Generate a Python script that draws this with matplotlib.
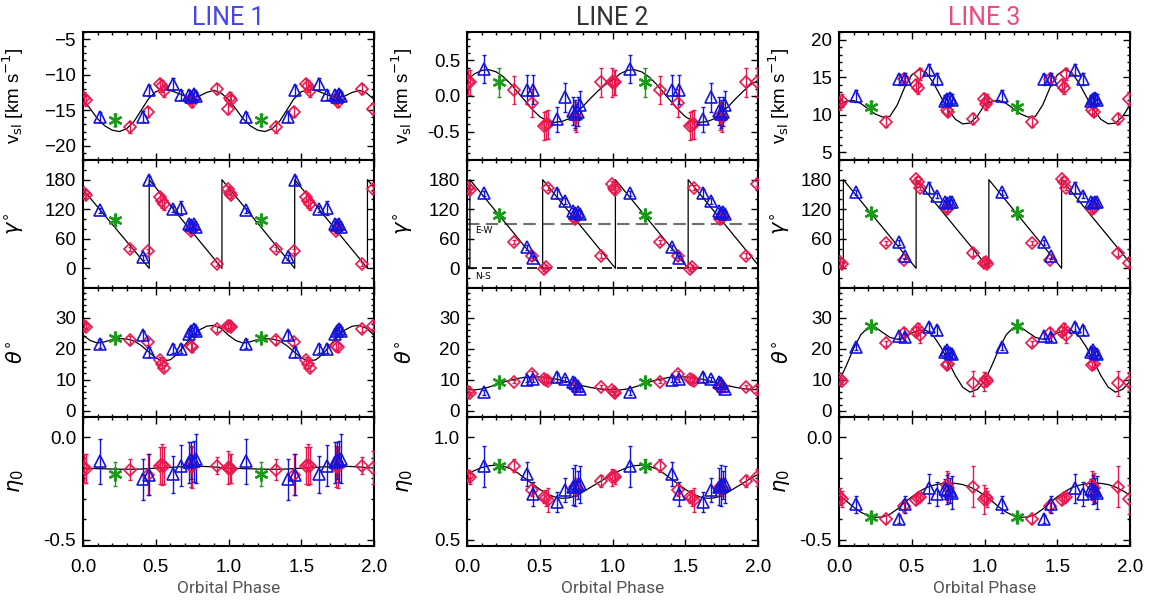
import numpy as np
import matplotlib
matplotlib.use('Agg')
import matplotlib.pyplot as plt
from matplotlib.ticker import MultipleLocator

RED = '#e8174d'
BLUE = '#1414dc'
GREEN = '#1c9a1c'

# observation phases (folded, plotted at phase and phase+1)
red_phase = [0.008, 0.018, 0.325, 0.45, 0.53, 0.545, 0.56, 0.74, 0.75, 0.92, 0.995]
blue_phase = [0.12, 0.41, 0.455, 0.62, 0.675, 0.73, 0.745, 0.76, 0.775]
green_phase = [0.22]
model_phase = [0.00, 0.05, 0.10, 0.15, 0.20, 0.25, 0.30, 0.35, 0.40, 0.45, 0.50,
               0.55, 0.60, 0.65, 0.70, 0.75, 0.80, 0.85, 0.90, 0.95, 1.00]

# ---- LINE 1 ----
l1_vsl_red = [-13.3, -13.6, -17.4, -15.3, -11.3, -11.6, -12.3, -13.4, -13.8, -12.0, -14.8]
l1_vsl_red_err = [0.8, 0.8, 0.8, 0.7, 0.7, 0.8, 0.8, 0.7, 0.7, 0.7, 0.8]
l1_vsl_blue = [-15.9, -15.9, -12.2, -11.3, -12.9, -12.9, -13.2, -12.7, -13.0]
l1_vsl_blue_err = [0.7, 0.8, 0.8, 0.8, 0.7, 0.7, 0.7, 0.6, 0.6]
l1_vsl_green = [-16.4]
l1_vsl_green_err = [0.8]
l1_vsl_model = [-13.5, -14.8, -16.2, -17.2, -17.8, -18.0, -17.6, -16.6, -15.0, -13.4, -12.4,
                -12.1, -12.2, -12.6, -13.0, -13.2, -13.0, -12.5, -12.2, -12.6, -13.5]

l1_gam_red = [153, 148, 39, 35, 144, 137, 131, 76, 79, 9, 162]
l1_gam_red_err = [5, 5, 4, 4, 8, 14, 12, 5, 5, 4, 5]
l1_gam_blue = [118, 22, 180, 120, 122, 90, 87, 91, 83]
l1_gam_blue_err = [5, 5, 8, 6, 14, 6, 6, 6, 6]
l1_gam_green = [99]
l1_gam_green_err = [6]
l1_gam_model_x = [0.0, 0.455, 0.455, 0.955, 0.955, 1.455, 1.455, 1.955, 1.955, 2.0]
l1_gam_model_y = [160, 0, 180, 0, 180, 0, 180, 0, 180, 164]

l1_the_red = [27.3, 27.0, 22.7, 22.1, 16.2, 15.1, 13.7, 21.0, 20.5, 26.4, 27.3]
l1_the_red_err = [0.8, 0.8, 1.2, 1.0, 1.0, 1.2, 1.0, 1.5, 1.5, 1.0, 1.0]
l1_the_blue = [21.6, 24.3, 18.9, 20.0, 20.0, 24.8, 25.6, 26.4, 25.8]
l1_the_blue_err = [1.5, 1.5, 1.5, 1.5, 1.5, 1.5, 1.5, 1.5, 1.2]
l1_the_green = [23.5]
l1_the_green_err = [0.8]
l1_the_model = [24.3, 22.6, 21.8, 22.2, 22.9, 23.2, 23.1, 22.5, 21.0, 19.0, 17.0,
                16.0, 16.4, 18.3, 21.2, 24.0, 26.0, 27.2, 27.5, 26.5, 24.3]

l1_eta_red = [-0.150, -0.153, -0.157, -0.183, -0.137, -0.134, -0.137, -0.140, -0.145, -0.137, -0.148]
l1_eta_red_err = [0.07, 0.07, 0.05, 0.10, 0.09, 0.10, 0.09, 0.10, 0.10, 0.04, 0.08]
l1_eta_blue = [-0.116, -0.203, -0.183, -0.180, -0.137, -0.120, -0.112, -0.115, -0.104]
l1_eta_blue_err = [0.11, 0.10, 0.10, 0.09, 0.10, 0.10, 0.09, 0.10, 0.12]
l1_eta_green = [-0.178]
l1_eta_green_err = [0.06]
l1_eta_model = [-0.150, -0.151, -0.152, -0.153, -0.154, -0.155, -0.155, -0.155, -0.154, -0.152, -0.150,
                -0.148, -0.146, -0.144, -0.142, -0.141, -0.141, -0.142, -0.144, -0.147, -0.150]

# ---- LINE 2 ----
l2_vsl_red = [0.19, 0.19, 0.085, -0.10, -0.42, -0.41, -0.40, -0.28, -0.31, 0.19, 0.19]
l2_vsl_red_err = [0.18, 0.18, 0.2, 0.2, 0.2, 0.2, 0.2, 0.2, 0.2, 0.2, 0.2]
l2_vsl_blue = [0.38, 0.09, 0.09, -0.33, -0.02, -0.21, -0.25, -0.22, -0.13]
l2_vsl_blue_err = [0.2, 0.2, 0.2, 0.18, 0.2, 0.2, 0.2, 0.2, 0.2]
l2_vsl_green = [0.19]
l2_vsl_green_err = [0.2]
l2_vsl_model = [0.22, 0.31, 0.36, 0.37, 0.34, 0.27, 0.17, 0.05, -0.07, -0.19, -0.29,
                -0.35, -0.37, -0.36, -0.32, -0.24, -0.14, -0.03, 0.07, 0.16, 0.22]

l2_gam_red = [164, 159, 53, 24, -1, 2, 164, 100, 103, 26, 172]
l2_gam_red_err = [5, 5, 4, 4, 4, 4, 5, 5, 5, 5, 5]
l2_gam_blue = [152, 43, 21, 152, 136, 117, 112, 115, 110]
l2_gam_blue_err = [5, 5, 5, 10, 6, 6, 6, 6, 6]
l2_gam_green = [108]
l2_gam_green_err = [5]
l2_gam_model_x = [0.0, 0.02, 0.02, 0.52, 0.52, 1.02, 1.02, 1.52, 1.52, 2.0]
l2_gam_model_y = [7, 0, 180, 0, 180, 0, 180, 0, 180, 7]

l2_the_red = [5.9, 5.6, 9.4, 11.9, 10.2, 10.0, 9.7, 7.2, 7.6, 7.8, 6.8]
l2_the_red_err = [0.6, 0.6, 0.6, 0.8, 0.8, 0.8, 0.8, 0.8, 0.8, 0.6, 0.6]
l2_the_blue = [5.9, 10.0, 10.2, 10.8, 10.2, 9.2, 8.8, 8.0, 7.0]
l2_the_blue_err = [0.8, 0.8, 0.8, 1.5, 0.8, 1.0, 1.0, 1.0, 1.0]
l2_the_green = [9.4]
l2_the_green_err = [0.6]
l2_the_model = [6.8, 6.7, 7.0, 7.6, 8.4, 9.2, 9.9, 10.4, 10.8, 10.9, 10.9,
                10.7, 10.3, 9.8, 9.2, 8.6, 8.0, 7.5, 7.1, 6.8, 6.8]

l2_eta_red = [0.813, 0.805, 0.863, 0.743, 0.711, 0.705, 0.695, 0.760, 0.752, 0.789, 0.805]
l2_eta_red_err = [0.03, 0.03, 0.03, 0.03, 0.03, 0.04, 0.06, 0.04, 0.04, 0.03, 0.04]
l2_eta_blue = [0.860, 0.822, 0.723, 0.685, 0.744, 0.760, 0.765, 0.768, 0.772]
l2_eta_blue_err = [0.10, 0.06, 0.06, 0.05, 0.06, 0.09, 0.10, 0.07, 0.09]
l2_eta_green = [0.863]
l2_eta_green_err = [0.03]
l2_eta_model = [0.820, 0.838, 0.853, 0.862, 0.865, 0.860, 0.847, 0.826, 0.800, 0.773, 0.747,
                0.725, 0.710, 0.703, 0.705, 0.715, 0.735, 0.757, 0.778, 0.800, 0.820]

# ---- LINE 3 ----
l3_vsl_red = [11.4, 11.9, 9.1, 14.8, 13.9, 13.6, 15.4, 10.6, 10.4, 9.5, 12.1]
l3_vsl_red_err = [0.8, 0.8, 0.7, 0.8, 0.8, 0.8, 0.8, 0.6, 0.6, 0.7, 0.8]
l3_vsl_blue = [12.5, 14.7, 14.7, 16.0, 14.7, 11.9, 12.1, 12.2, 12.0]
l3_vsl_blue_err = [0.8, 0.7, 0.8, 0.7, 0.8, 0.7, 0.7, 0.7, 0.7]
l3_vsl_green = [11.1]
l3_vsl_green_err = [0.8]
l3_vsl_model = [11.3, 11.8, 11.9, 11.5, 10.8, 10.1, 9.7, 9.8, 11.3, 13.6, 15.3,
                16.0, 15.6, 14.2, 12.4, 10.7, 9.4, 8.8, 8.9, 9.8, 11.3]

l3_gam_red = [12, 9, 51, 17, 181, 175, 164, 120, 122, 32, 11]
l3_gam_red_err = [6, 6, 4, 4, 4, 4, 4, 5, 5, 8, 6]
l3_gam_blue = [154, 53, 24, 164, 147, 134, 132, 134, 134]
l3_gam_blue_err = [5, 5, 5, 12, 5, 5, 5, 5, 5]
l3_gam_green = [112]
l3_gam_green_err = [5]
l3_gam_model_x = [0.0, 0.03, 0.03, 0.53, 0.53, 1.03, 1.03, 1.53, 1.53, 2.0]
l3_gam_model_y = [11, 0, 180, 0, 180, 0, 180, 0, 180, 11]

l3_the_red = [10.2, 9.7, 21.8, 25.1, 25.4, 26.4, 24.3, 14.6, 15.0, 8.8, 9.4]
l3_the_red_err = [1.0, 1.0, 0.8, 1.5, 1.5, 2.0, 2.5, 1.0, 1.0, 4.0, 3.0]
l3_the_blue = [20.5, 24.0, 23.7, 27.0, 25.9, 18.9, 19.4, 18.6, 18.3]
l3_the_blue_err = [1.0, 1.0, 1.2, 1.2, 1.5, 1.2, 1.2, 1.2, 1.2]
l3_the_green = [27.2]
l3_the_green_err = [0.8]
l3_the_model = [9.5, 14.5, 20.0, 24.5, 26.8, 26.9, 25.2, 23.6, 23.0, 23.6, 25.0,
                26.0, 25.8, 24.0, 20.5, 16.0, 11.3, 7.6, 6.0, 6.9, 9.5]

l3_eta_red = [-0.289, -0.300, -0.400, -0.335, -0.305, -0.298, -0.289, -0.233, -0.245, -0.241, -0.302]
l3_eta_red_err = [0.04, 0.04, 0.02, 0.03, 0.02, 0.02, 0.02, 0.07, 0.07, 0.10, 0.07]
l3_eta_blue = [-0.327, -0.398, -0.327, -0.249, -0.277, -0.252, -0.255, -0.260, -0.270]
l3_eta_blue_err = [0.04, 0.02, 0.04, 0.07, 0.06, 0.05, 0.07, 0.06, 0.08]
l3_eta_green = [-0.388]
l3_eta_green_err = [0.02]
l3_eta_model = [-0.282, -0.310, -0.340, -0.365, -0.382, -0.390, -0.388, -0.375, -0.350, -0.318, -0.290,
                -0.265, -0.245, -0.233, -0.226, -0.223, -0.224, -0.230, -0.242, -0.260, -0.282]

titles = ['LINE 1', 'LINE 2', 'LINE 3']
title_colors = ['#4646f0', '#333333', '#f04a78']
ylabels = [r'v$_{\rm sl}$ [km s$^{-1}$]', r'$\gamma^{\circ}$', r'$\theta^{\circ}$', r'$\eta_0$']
ylabel_sizes = [13.5, 15, 15, 15]

panels = {
    (0, 0): (l1_vsl_red, l1_vsl_red_err, l1_vsl_blue, l1_vsl_blue_err, l1_vsl_green, l1_vsl_green_err, l1_vsl_model),
    (1, 0): (l1_gam_red, l1_gam_red_err, l1_gam_blue, l1_gam_blue_err, l1_gam_green, l1_gam_green_err, (l1_gam_model_x, l1_gam_model_y)),
    (2, 0): (l1_the_red, l1_the_red_err, l1_the_blue, l1_the_blue_err, l1_the_green, l1_the_green_err, l1_the_model),
    (3, 0): (l1_eta_red, l1_eta_red_err, l1_eta_blue, l1_eta_blue_err, l1_eta_green, l1_eta_green_err, l1_eta_model),
    (0, 1): (l2_vsl_red, l2_vsl_red_err, l2_vsl_blue, l2_vsl_blue_err, l2_vsl_green, l2_vsl_green_err, l2_vsl_model),
    (1, 1): (l2_gam_red, l2_gam_red_err, l2_gam_blue, l2_gam_blue_err, l2_gam_green, l2_gam_green_err, (l2_gam_model_x, l2_gam_model_y)),
    (2, 1): (l2_the_red, l2_the_red_err, l2_the_blue, l2_the_blue_err, l2_the_green, l2_the_green_err, l2_the_model),
    (3, 1): (l2_eta_red, l2_eta_red_err, l2_eta_blue, l2_eta_blue_err, l2_eta_green, l2_eta_green_err, l2_eta_model),
    (0, 2): (l3_vsl_red, l3_vsl_red_err, l3_vsl_blue, l3_vsl_blue_err, l3_vsl_green, l3_vsl_green_err, l3_vsl_model),
    (1, 2): (l3_gam_red, l3_gam_red_err, l3_gam_blue, l3_gam_blue_err, l3_gam_green, l3_gam_green_err, (l3_gam_model_x, l3_gam_model_y)),
    (2, 2): (l3_the_red, l3_the_red_err, l3_the_blue, l3_the_blue_err, l3_the_green, l3_the_green_err, l3_the_model),
    (3, 2): (l3_eta_red, l3_eta_red_err, l3_eta_blue, l3_eta_blue_err, l3_eta_green, l3_eta_green_err, l3_eta_model),
}

ylims = {(0, 0): (-22, -4), (0, 1): (-0.9, 0.9), (0, 2): (4, 21),
         (3, 0): (-0.53, 0.1), (3, 1): (0.47, 1.1), (3, 2): (-0.53, 0.1)}
row_ylim = {1: (-40, 220), 2: (-2, 39.5)}
yticks = {(0, 0): [-20, -15, -10, -5], (0, 1): [-0.5, 0.0, 0.5], (0, 2): [5, 10, 15, 20],
          (3, 0): [-0.5, 0.0], (3, 1): [0.5, 1.0], (3, 2): [-0.5, 0.0]}
row_yticks = {1: [0, 60, 120, 180], 2: [0, 10, 20, 30]}
minor_step = {(0, 0): 1, (0, 1): 0.1, (0, 2): 1, (3, 0): 0.1, (3, 1): 0.1, (3, 2): 0.1}
row_minor = {1: 20, 2: 2}

plt.rcParams['font.family'] = ['Liberation Sans', 'DejaVu Sans']
plt.rcParams['mathtext.fontset'] = 'dejavusans'
THIN = ['Roboto', 'DejaVu Sans']

W, H = 1151., 601.
lefts = [83, 467, 839]
tops = [32, 160, 288, 417, 546]
label_x = [-0.195, -0.18, -0.16]


def draw_obs(ax, phase, vals, errs, color, marker, ms, mew):
    ph = np.concatenate([phase, np.array(phase) + 1.0])
    v = np.concatenate([vals, vals])
    e = np.concatenate([errs, errs])
    ax.errorbar(ph, v, yerr=e, fmt='none', ecolor=color, elinewidth=1.0,
                capsize=1.6, capthick=1.0, zorder=3)
    ax.plot(ph, v, ls='none', marker=marker, ms=ms, mfc='none', mec=color,
            mew=mew, zorder=4)


fig = plt.figure(figsize=(W / 100, H / 100), dpi=100)
for (r, c), p in panels.items():
    x0 = lefts[c]
    ax = fig.add_axes([x0 / W, 1 - tops[r + 1] / H, 291 / W, (tops[r + 1] - tops[r]) / H])
    red, red_e, blue, blue_e, green, green_e, model = p

    if r == 1:
        ax.plot(model[0], model[1], color='k', lw=0.9, zorder=2)
    else:
        mx = np.concatenate([model_phase, np.array(model_phase[1:]) + 1.0])
        my = np.concatenate([model, model[1:]])
        ax.plot(mx, my, color='k', lw=0.9, zorder=2)

    if (r, c) == (1, 1):
        ax.axhline(90, color='#707070', ls=(0, (6, 3)), lw=1.5, zorder=1)
        ax.axhline(0, color='k', ls=(0, (6, 3)), lw=1.2, zorder=1)
        ax.text(0.055, 76, 'E-W', fontsize=6.5, va='center', ha='left', family='DejaVu Sans')
        ax.text(0.055, -16, 'N-S', fontsize=6.5, va='center', ha='left', family='DejaVu Sans')

    draw_obs(ax, red_phase, red, red_e, RED, 'D', 5.8, 1.2)
    draw_obs(ax, blue_phase, blue, blue_e, BLUE, '^', 8.8, 1.2)
    draw_obs(ax, green_phase, green, green_e, GREEN, (6, 2, 0), 10, 1.7)

    ax.set_xlim(0, 2)
    ax.set_ylim(ylims.get((r, c), row_ylim.get(r)))
    ax.set_yticks(yticks.get((r, c), row_yticks.get(r)))
    ax.yaxis.set_minor_locator(MultipleLocator(minor_step.get((r, c), row_minor.get(r))))
    ax.xaxis.set_major_locator(MultipleLocator(0.5))
    ax.xaxis.set_minor_locator(MultipleLocator(0.1))
    ax.tick_params(which='both', direction='in', top=True, right=True, width=1.0,
                   labelsize=13.5, pad=5)
    ax.tick_params(which='major', length=5)
    ax.tick_params(which='minor', length=2.5)
    ax.tick_params(axis='x', pad=9)
    for s in ax.spines.values():
        s.set_linewidth(1.5)

    if r == 3:
        ax.xaxis.set_major_formatter(plt.FormatStrFormatter('%.1f'))
        ax.set_xlabel('Orbital Phase', fontsize=12.5, color='#555555',
                      family=THIN, labelpad=4)
    else:
        ax.set_xticklabels([])
    if r == 3 or (r == 0 and c == 1):
        ax.yaxis.set_major_formatter(plt.FormatStrFormatter('%.1f'))
    ax.set_ylabel(ylabels[r], fontsize=ylabel_sizes[r])
    ax.yaxis.set_label_coords(label_x[c], 0.5)
    if r == 0:
        ax.set_title(titles[c], fontsize=18, color=title_colors[c],
                     family=THIN, pad=5)

fig.savefig('out.png', dpi=100)
